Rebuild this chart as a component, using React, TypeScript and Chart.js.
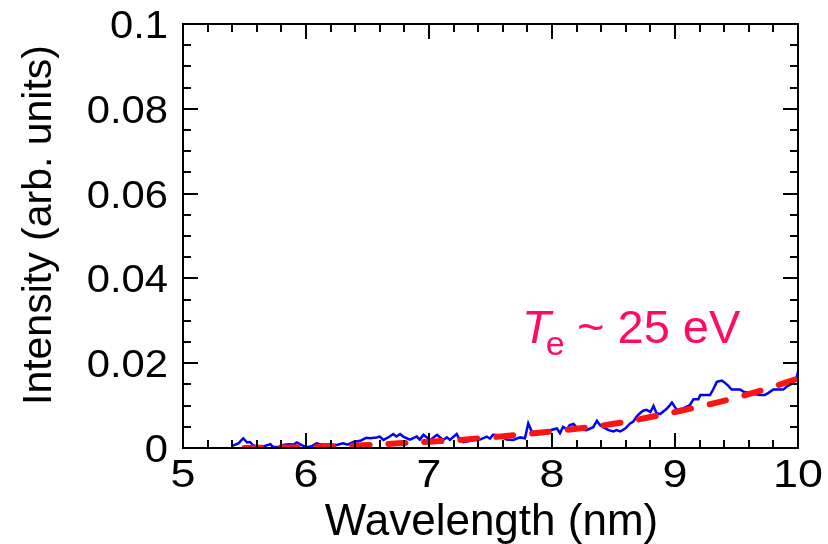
import React, { useEffect, useRef } from "react";
import { Chart, registerables } from "chart.js";

Chart.register(...registerables);

// Measured spectrum (blue)
const wavelength = [
  5.40, 5.45, 5.49, 5.52, 5.545, 5.57, 5.60, 5.63, 5.65, 5.71, 5.73, 5.775, 5.815, 5.855, 5.90, 5.925, 5.965,
  6.005, 6.045, 6.085, 6.13, 6.195, 6.25, 6.30, 6.34, 6.385, 6.44, 6.49, 6.52, 6.55, 6.575, 6.60, 6.63, 6.68,
  6.71, 6.735, 6.765, 6.79, 6.845, 6.90, 6.925, 6.955, 7.01, 7.065, 7.115, 7.145, 7.17, 7.225, 7.25, 7.28,
  7.335, 7.36, 7.415, 7.47, 7.495, 7.52, 7.575, 7.63, 7.685, 7.74, 7.78, 7.807, 7.835, 7.90, 7.945, 7.985,
  8.04, 8.065, 8.09, 8.12, 8.145, 8.175, 8.20, 8.225, 8.28, 8.335, 8.365, 8.39, 8.415, 8.46, 8.50, 8.525,
  8.555, 8.595, 8.635, 8.66, 8.69, 8.715, 8.74, 8.77, 8.80, 8.825, 8.85, 8.88, 8.93, 8.955, 8.975, 9.015,
  9.07, 9.12, 9.15, 9.19, 9.205, 9.285, 9.31, 9.34, 9.38, 9.405, 9.435, 9.46, 9.53, 9.555, 9.61, 9.69, 9.73,
  9.76, 9.80, 9.88, 9.91, 9.96, 9.99, 10.0,
];
const intensity = [
  0.0005, 0.0011, 0.0023, 0.0013, 0.0014, 0.0007, 0.0003, 0.0004, 0.0003, 0.0009, 0.0003, 0.0002, 0.0007, 0.0009, 0.0008, 0.0013, 0.0007,
  0.0002, 0.0004, 0.0011, 0.0008, 0.0008, 0.0007, 0.0011, 0.0008, 0.0014, 0.0017, 0.0024, 0.0023, 0.0024, 0.0025, 0.0027, 0.0019, 0.0027,
  0.0033, 0.0027, 0.0033, 0.0027, 0.0020, 0.0027, 0.0020, 0.0031, 0.0019, 0.0031, 0.0019, 0.0025, 0.0019, 0.0033, 0.0019, 0.0014,
  0.0017, 0.0022, 0.0020, 0.0027, 0.0022, 0.0031, 0.0030, 0.0020, 0.0019, 0.0025, 0.0023, 0.0058, 0.0039, 0.0035, 0.0039, 0.0042,
  0.0046, 0.0035, 0.0050, 0.0044, 0.0054, 0.0057, 0.0049, 0.0044, 0.0042, 0.0049, 0.0064, 0.0054, 0.0049, 0.0042, 0.0039, 0.0042,
  0.0039, 0.0046, 0.0058, 0.0062, 0.0075, 0.0082, 0.0088, 0.0090, 0.0085, 0.0099, 0.0082, 0.0080, 0.0092, 0.0100, 0.0107, 0.0090,
  0.0094, 0.0101, 0.0115, 0.0115, 0.0125, 0.0125, 0.0138, 0.0156, 0.0159, 0.0154, 0.0146, 0.0138, 0.0138, 0.0133, 0.0129, 0.0125, 0.0125,
  0.0130, 0.0138, 0.0138, 0.0145, 0.0153, 0.0168, 0.0180,
];

// Fit curve (red dashed)
const fitWavelength = [5.5, 5.75, 6.0, 6.25, 6.5, 6.75, 7.0, 7.25, 7.5, 7.75, 8.0, 8.25, 8.5, 8.75, 9.0, 9.25, 9.5, 9.75, 10.0];
const fitIntensity = [0.0, 0.0001, 0.0002, 0.0004, 0.0007, 0.0011, 0.0015, 0.0019, 0.0025, 0.0032, 0.0039, 0.0047, 0.0057, 0.0070, 0.0085, 0.0101, 0.0119, 0.0140, 0.0164];

const xTickValues = [5, 6, 7, 8, 9, 10];
const xTickLabels = ["5", "6", "7", "8", "9", "10"];
const yTickValues = [0, 0.02, 0.04, 0.06, 0.08, 0.1];
const yTickLabels = ["0", "0.02", "0.04", "0.06", "0.08", "0.1"];

const xTitle = "Wavelength (nm)";
const yTitle = "Intensity (arb. units)";
const annotationMain = "T";
const annotationSub = "e";
const annotationRest = "~ 25 eV";
const annotationAt = { x: 7.756, y: 0.0248 };

const FONT = "'Liberation Sans', Arial, sans-serif";

function stretchedText(ctx: any, text: string, x: number, y: number, sx: number, align: string) {
  ctx.save();
  ctx.translate(x, y);
  ctx.scale(sx, 1);
  ctx.textAlign = align;
  ctx.fillText(text, 0, 0);
  ctx.restore();
}

const framePlugin = {
  id: "frameTicks",
  afterDraw(chart: any) {
    const { ctx, chartArea: a, scales } = chart;
    const xs = scales.x;
    const ys = scales.y;
    ctx.save();
    ctx.strokeStyle = "#000";
    ctx.lineWidth = 2;
    ctx.lineCap = "butt";
    ctx.strokeRect(a.left, a.top, a.right - a.left, a.bottom - a.top);
    ctx.beginPath();
    for (let i = 0; i <= 25; i++) {
      const v = 5 + i * 0.2;
      const px = Math.round(xs.getPixelForValue(v));
      const len = i % 5 === 0 ? 15 : 8;
      ctx.moveTo(px, a.bottom);
      ctx.lineTo(px, a.bottom - len);
      ctx.moveTo(px, a.top);
      ctx.lineTo(px, a.top + len);
    }
    for (let i = 0; i <= 20; i++) {
      const v = i * 0.005;
      const py = Math.round(ys.getPixelForValue(v));
      const len = i % 4 === 0 ? 15 : 8;
      ctx.moveTo(a.left, py);
      ctx.lineTo(a.left + len, py);
      ctx.moveTo(a.right, py);
      ctx.lineTo(a.right - len, py);
    }
    ctx.stroke();

    ctx.fillStyle = "#000";
    ctx.textBaseline = "alphabetic";
    // tick labels
    ctx.font = `38px ${FONT}`;
    xTickValues.forEach((v, i) => {
      stretchedText(ctx, xTickLabels[i], xs.getPixelForValue(v), 487, 1.18, "center");
    });
    yTickValues.forEach((v, i) => {
      stretchedText(ctx, yTickLabels[i], 168, ys.getPixelForValue(v) + 14, 1.1, "right");
    });

    // axis titles
    ctx.font = `44px ${FONT}`;
    stretchedText(ctx, xTitle, (a.left + a.right) / 2 + 1, 535, 1.0, "center");
    ctx.save();
    ctx.translate(51, 225);
    ctx.rotate(-Math.PI / 2);
    ctx.font = `41px ${FONT}`;
    ctx.textAlign = "center";
    ctx.fillText(yTitle, 0, 0);
    ctx.restore();

    // annotation
    const ax = xs.getPixelForValue(annotationAt.x);
    const ay = ys.getPixelForValue(annotationAt.y);
    ctx.fillStyle = "#ff0a64";
    ctx.textAlign = "left";
    ctx.font = `italic 47px ${FONT}`;
    ctx.fillText(annotationMain, ax, ay);
    const tw = ctx.measureText(annotationMain).width;
    ctx.font = `34px ${FONT}`;
    ctx.fillText(annotationSub, ax + tw - 5, ay + 12);
    ctx.font = `47px ${FONT}`;
    ctx.fillText(annotationRest, ax + 55, ay);
    ctx.restore();
  },
};

export default function App() {
  const ref = useRef<HTMLCanvasElement>(null);
  useEffect(() => {
    if (!ref.current) return;
    const chart = new Chart(ref.current, {
      type: "line",
      data: {
        datasets: [
          {
            label: "fit",
            data: fitWavelength.map((x, i) => ({ x, y: fitIntensity[i] })),
            borderColor: "rgb(250,20,20)",
            borderWidth: 6,
            borderDash: [17, 19],
            borderCapStyle: "round",
            pointRadius: 0,
            fill: false,
            tension: 0.4,
          },
          {
            label: "spectrum",
            data: wavelength.map((x, i) => ({ x, y: intensity[i] })),
            borderColor: "#0000ff",
            borderWidth: 2.5,
            pointRadius: 0,
            fill: false,
            tension: 0,
          },
        ],
      },
      options: {
        animation: false,
        responsive: false,
        devicePixelRatio: 1,
        layout: { padding: { top: 24, right: 30, left: 0, bottom: 0 } },
        plugins: { legend: { display: false }, tooltip: { enabled: false } },
        scales: {
          x: {
            type: "linear",
            min: 5,
            max: 10,
            grid: { display: false, drawTicks: false },
            border: { display: false },
            ticks: { display: false, stepSize: 1 },
            afterFit: (s: any) => {
              s.height = 96;
            },
          },
          y: {
            type: "linear",
            min: 0,
            max: 0.1,
            grid: { display: false, drawTicks: false },
            border: { display: false },
            ticks: { display: false, stepSize: 0.02 },
            afterFit: (s: any) => {
              s.width = 183;
            },
          },
        },
      },
      plugins: [framePlugin],
    });
    return () => chart.destroy();
  }, []);
  return (
    <div style={{ position: "fixed", left: 0, top: 0, width: 828, height: 544, background: "#fff" }}>
      <canvas ref={ref} width={828} height={544} />
    </div>
  );
}
